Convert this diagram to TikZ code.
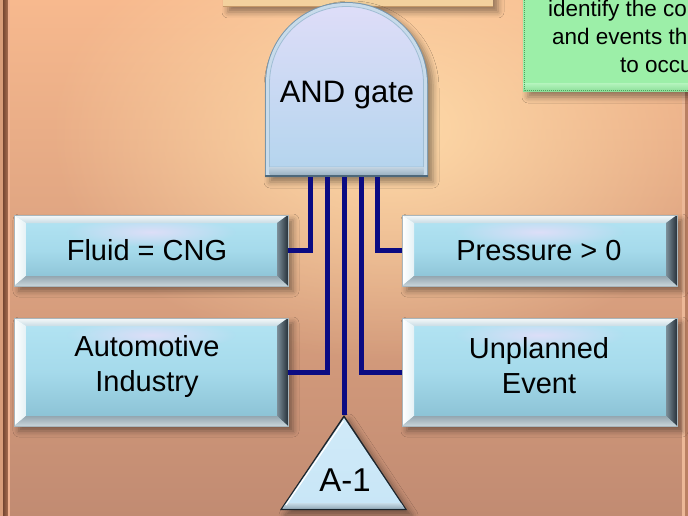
\documentclass[tikz,border=0pt]{standalone}
\usepackage{fontspec}
\setmainfont{Liberation Sans}
\usetikzlibrary{shadows.blur,fadings}

% palette
\definecolor{bgtop}{HTML}{F7B98E}
\definecolor{bgmid}{HTML}{EDB08A}
\definecolor{bgbot}{HTML}{C18B72}
\definecolor{bglight}{HTML}{FFDBA9}
\definecolor{facetop}{HTML}{B3E4F3}
\definecolor{facemid}{HTML}{A5DAEB}
\definecolor{facebot}{HTML}{87BED1}
\definecolor{lavhi}{HTML}{DDDEF8}
\definecolor{bxedge}{HTML}{A9B6BC}
\definecolor{bevtop}{HTML}{C9DCE4}
\definecolor{bevleft}{HTML}{E4F1F5}
\definecolor{bevrin}{HTML}{7C8F9A}
\definecolor{bevrout}{HTML}{27313A}
\definecolor{bevbtop}{HTML}{94A6B0}
\definecolor{bevbbot}{HTML}{C9D5DA}
\definecolor{wirec}{HTML}{0B0B82}
\definecolor{gatetop}{HTML}{DEDDF8}
\definecolor{gatebot}{HTML}{B5D5EE}
\definecolor{gaterim}{HTML}{C8DBEA}
\definecolor{gateline}{HTML}{7896AC}
\definecolor{gateinner}{HTML}{A0BED4}
\definecolor{gatebandtop}{HTML}{C4D5E2}
\definecolor{gatebandbot}{HTML}{9CB3C4}
\definecolor{gatebase}{HTML}{4E687A}
\definecolor{xferfill}{HTML}{C8E6F7}
\definecolor{xferedge}{HTML}{1C252D}
\definecolor{xferbandtop}{HTML}{C8DCE8}
\definecolor{xferbandbot}{HTML}{96ACBA}
\definecolor{notegreen}{HTML}{9CEFA8}
\definecolor{noteedge}{HTML}{4FA15C}
\definecolor{tanbox}{HTML}{F3D19E}
\definecolor{tanedge}{HTML}{C49868}
\definecolor{frameouter}{HTML}{D89C7A}
\definecolor{framedarkA}{HTML}{764632}
\definecolor{framedarkB}{HTML}{A86E52}
\definecolor{framelight}{HTML}{F0B292}
\definecolor{rightlight}{HTML}{ECB898}
\definecolor{rightdark}{HTML}{BA8062}

\tikzfading[name=softspot, inner color=transparent!0, outer color=transparent!100]

% bevelled frame drawn inside each button
\newcommand\drawbevels{%
  \path (path picture bounding box.north west) coordinate (bNW)
        (path picture bounding box.north east) coordinate (bNE)
        (path picture bounding box.south west) coordinate (bSW)
        (path picture bounding box.south east) coordinate (bSE);
  \coordinate (iNW) at ([shift={(12pt,-8pt)}]bNW);
  \coordinate (iNE) at ([shift={(-11pt,-8pt)}]bNE);
  \coordinate (iSW) at ([shift={(12pt,10pt)}]bSW);
  \coordinate (iSE) at ([shift={(-11pt,10pt)}]bSE);
  \fill[lavhi, path fading=softspot] ([yshift=-17pt]path picture bounding box.north)
    ellipse [x radius=85pt, y radius=15pt];
  \shade[top color=white!85!bevtop, bottom color=bevtop] (bNW) -- (bNE) -- (iNE) -- (iNW) -- cycle;
  \shade[left color=white, right color=bevleft] (bNW) -- (iNW) -- (iSW) -- (bSW) -- cycle;
  \shade[left color=bevrin, right color=bevrout] (bNE) -- (bSE) -- (iSE) -- (iNE) -- cycle;
  \shade[top color=bevbtop, bottom color=bevbbot] (bSW) -- (iSW) -- (iSE) -- (bSE) -- cycle;
}

\tikzset{
  bevelbox/.style={rectangle, inner sep=0pt, draw=bxedge, line width=0.8pt,
    top color=facetop, bottom color=facebot, middle color=facemid,
    blur shadow={shadow xshift=5pt, shadow yshift=-5pt, shadow blur radius=6pt, shadow opacity=40},
    path picture={\drawbevels}},
  lbl/.style={font=\fontsize{29pt}{35pt}\selectfont, align=center, inner sep=0pt, text=black},
  gatelbl/.style={font=\fontsize{31pt}{36pt}\selectfont, inner sep=0pt, text=black},
  xferlbl/.style={font=\fontsize{33pt}{38pt}\selectfont, inner sep=0pt, text=black},
  notelbl/.style={font=\fontsize{22.5pt}{28pt}\selectfont, inner sep=0pt, text=black, anchor=base west},
  wire/.style={draw=wirec, line width=5pt, line join=miter},
  softshadow/.style={blur shadow={shadow xshift=5pt, shadow yshift=-5pt, shadow blur radius=6pt, shadow opacity=40}},
  % dome outline of the AND gate, inset by #1, straight sides down to y=#2
  dome/.style n args={2}{insert path={
    ({265+#1},#2) -- ({265+#1},83.5)
    .. controls ({265+#1},{83.5-0.5523*(81.5-#1)}) and ({346.5-0.5523*(81.5-#1)},{2+#1}) .. (346.5,{2+#1})
    .. controls ({346.5+0.5523*(81.5-#1)},{2+#1}) and ({428-#1},{83.5-0.5523*(81.5-#1)}) .. ({428-#1},83.5)
    -- ({428-#1},#2) -- cycle}},
}

\begin{document}
\begin{tikzpicture}[x=1pt,y=-1pt]
\useasboundingbox (0,0) rectangle (688,516);

% backdrop
\shade[top color=bgtop, middle color=bgmid, bottom color=bgbot] (0,0) rectangle (688,516);
\fill[bglight, path fading=softspot] (390,130) ellipse [x radius=340pt, y radius=230pt];

% slide frame edges
\fill[frameouter] (0,0) rectangle (3,516);
\shade[left color=framedarkA, right color=framedarkB] (3,0) rectangle (8,516);
\fill[framelight] (8,0) rectangle (10,516);
\fill[rightlight] (682,0) rectangle (684.5,516);
\fill[rightdark] (684.5,0) rectangle (688,516);

% box above the gate
\fill[tanbox, softshadow] (223,-30) rectangle (493,7);
\draw[tanedge, line width=1pt] (223,7) -- (493,7);

% note box
\fill[notegreen, softshadow] (523,-30) rectangle (700,92);
\shade[top color=notegreen!80!white, bottom color=notegreen!75!noteedge] (523,84) rectangle (700,92);
\draw[noteedge, line width=1pt, densely dotted] (524,-30) -- (524,91) -- (700,91);
\node[notelbl] (note1) at (548,17) {identify the co};
\node[notelbl] (note2) at (552,45) {and events th};
\node[notelbl] (note3) at (620,73) {to occu};

% AND gate body
\fill[gateline, softshadow, dome={0}{177}];
\fill[gaterim, dome={1}{175}];
\shade[top color=gatetop, bottom color=gatebot, dome={4.5}{167}];
\draw[gateinner, line width=0.8pt, dome={4.5}{167}];
\shade[top color=gatebandtop, bottom color=gatebandbot] (269.5,167) rectangle (423.5,174.5);
\fill[gatebase] (265,174.5) rectangle (428,177);
\node[gatelbl] (gate) at (347,95.5) {AND gate};

% gate input pins
\coordinate (pin1) at (310,177);
\coordinate (pin2) at (327,177);
\coordinate (pin3) at (344,177);
\coordinate (pin4) at (361,177);
\coordinate (pin5) at (377.5,177);

% event boxes
\node[bevelbox, minimum width=274pt, minimum height=71pt]  (fluid) at (151,250.5) {};
\node[bevelbox, minimum width=274pt, minimum height=108pt] (auto)  at (151,372) {};
\node[bevelbox, minimum width=275pt, minimum height=71pt]  (press) at (539.5,250.5) {};
\node[bevelbox, minimum width=275pt, minimum height=108pt] (unpl)  at (539.5,372) {};

\node[lbl] (fluid-t) at (147,250.5) {Fluid = CNG};
\node[lbl] (auto-t)  at (147,366) {Automotive\\Industry};
\node[lbl] (press-t) at (539,250.5) {Pressure > 0};
\node[lbl] (unpl-t)  at (539,366) {Unplanned\\Event};

% transfer triangle
\coordinate (xfer) at (344,415);
\fill[xferedge, softshadow] (xfer) -- (407,510) -- (280,510) -- cycle;
\shade[top color=xferfill!85!white, bottom color=xferfill] (344,418) -- (404.5,508.5) -- (282.5,508.5) -- cycle;
\shade[top color=xferbandtop, bottom color=xferbandbot] (286.5,503) -- (401,503) -- (404.5,508.5) -- (282.5,508.5) -- cycle;
\draw[white, line width=1.2pt] (343.5,421) -- (286,505);
\node[xferlbl] (xfer-t) at (345,480) {A-1};

% connectors from the gate
\draw[wire] (pin1) |- (fluid.east);
\draw[wire] (pin2) |- (auto.east);
\draw[wire] (pin3) -- (xfer);
\draw[wire] (pin4) |- (unpl.west);
\draw[wire] (pin5) |- (press.west);
\end{tikzpicture}
\end{document}
